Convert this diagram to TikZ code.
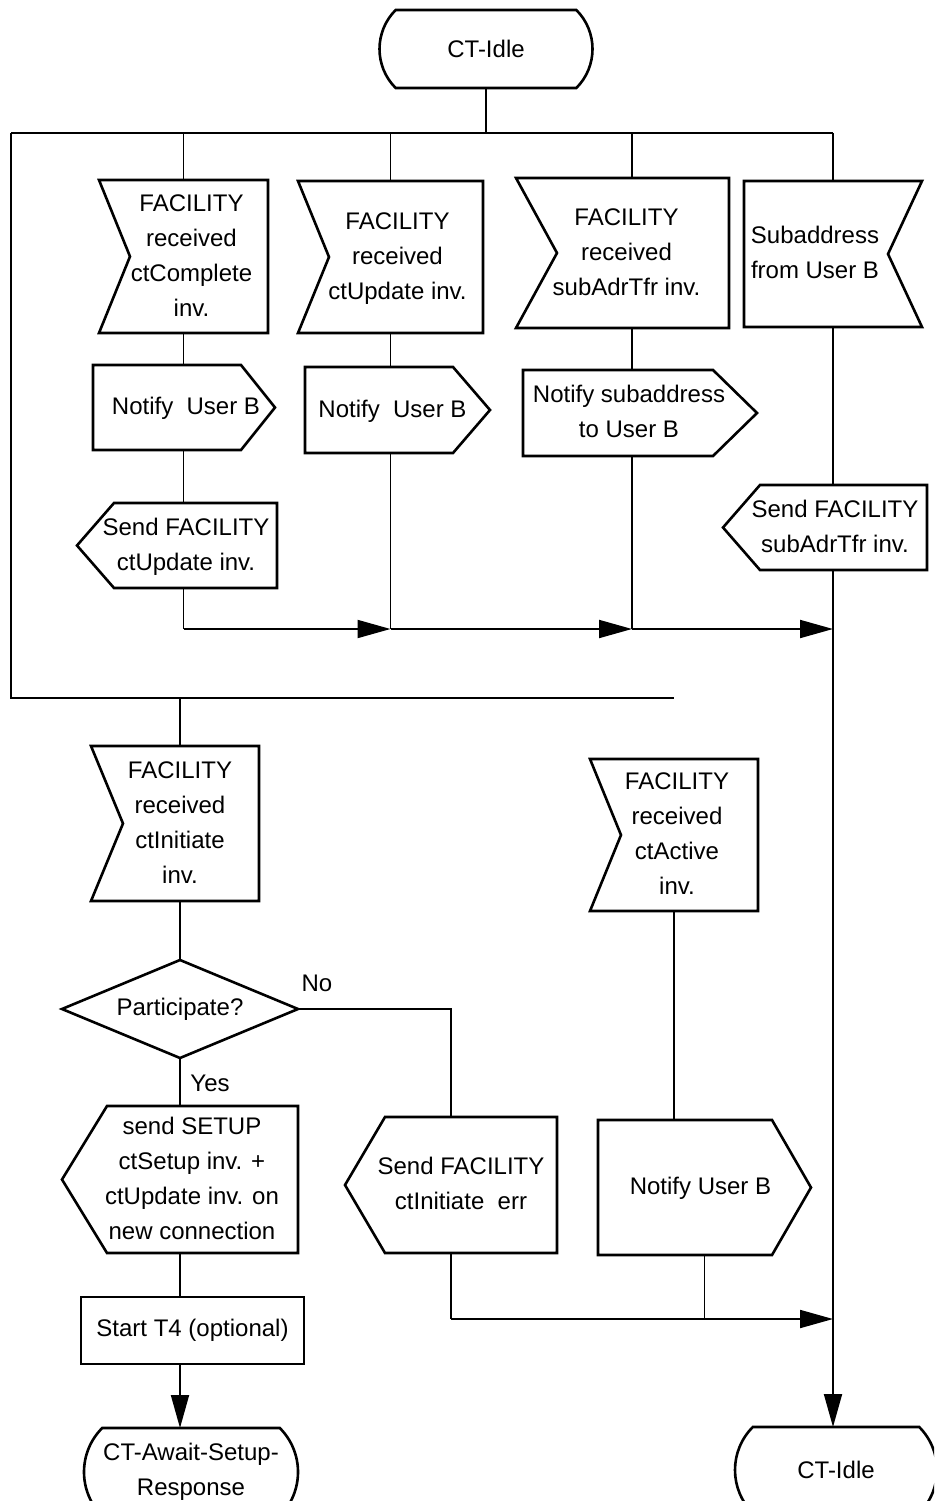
\documentclass[tikz,border=0pt]{standalone}
\usepackage{fontspec}
\setmainfont{Liberation Sans}
\usetikzlibrary{shapes.misc, shapes.geometric, arrows.meta}

% text block moved sideways inside its box
\newcommand{\boxtext}[2]{\hspace*{#1}\begin{tabular}{@{}c@{}}#2\end{tabular}\hspace*{-#1}}

\begin{document}
\begin{tikzpicture}[
  x=1pt, y=-1pt,
  every node/.style={font=\fontsize{24}{35}\selectfont, align=center, inner sep=0pt, outer sep=0pt},
  line/.style={line width=1.9pt},
  flow/.style={line width=1.9pt, -{Triangle[length=33pt, width=18pt]}},
  rim/.style={line width=2.6pt, line join=miter},
  state/.style={rounded rectangle, rounded rectangle arc length=90, draw, rim},
  % input: notch on the west side, depth #1
  inl/.style={rectangle, append after command={\pgfextra{\draw[rim]
      (\tikzlastnode.north west) -- (\tikzlastnode.north east) -- (\tikzlastnode.south east)
      -- (\tikzlastnode.south west) -- ([xshift=#1]\tikzlastnode.west) -- cycle;}}},
  % input: notch on the east side, depth #1
  inr/.style={rectangle, append after command={\pgfextra{\draw[rim]
      (\tikzlastnode.north west) -- (\tikzlastnode.north east) -- ([xshift=-#1]\tikzlastnode.east)
      -- (\tikzlastnode.south east) -- (\tikzlastnode.south west) -- cycle;}}},
  % output: point to the east, depth #1
  outr/.style={rectangle, append after command={\pgfextra{\draw[rim]
      (\tikzlastnode.north west) -- ([xshift=-#1]\tikzlastnode.north east) -- (\tikzlastnode.east)
      -- ([xshift=-#1]\tikzlastnode.south east) -- (\tikzlastnode.south west) -- cycle;}}},
  % output: point to the west, depth #1
  outl/.style={rectangle, append after command={\pgfextra{\draw[rim]
      ([xshift=#1]\tikzlastnode.north west) -- (\tikzlastnode.north east) -- (\tikzlastnode.south east)
      -- ([xshift=#1]\tikzlastnode.south west) -- (\tikzlastnode.west) -- cycle;}}},
  task/.style={rectangle, draw, rim},
  decision/.style={diamond, draw, rim, aspect=2.4}
  ]
\useasboundingbox (0,0) rectangle (934,1501);
\clip (0,0) rectangle (934,1501);

% States
\node[state, minimum width=213pt, minimum height=78pt] (idle) at (486,49) {CT-Idle};
\node[state, minimum width=214pt, minimum height=88pt] (await) at (191,1472) {CT-Await-Setup-\\Response};
\node[state, minimum width=202pt, minimum height=86pt] (idle2) at (836,1470) {CT-Idle};

% Upper branch
\node[inl=31, minimum width=169pt, minimum height=153pt] (inComp) at (183.5,256.5) {\boxtext{8pt}{FACILITY\\received\\ctComplete\\inv.}};
\node[inl=31, minimum width=185pt, minimum height=152pt] (inUpd) at (390.5,257) {\boxtext{7pt}{FACILITY\\received\\ctUpdate inv.}};
\node[inl=41, minimum width=213pt, minimum height=150pt] (inSub) at (622.5,253) {\boxtext{4pt}{FACILITY\\received\\subAdrTfr inv.}};
\node[inr=34, minimum width=178pt, minimum height=146pt] (inAddr) at (833,254) {\boxtext{-18pt}{Subaddress\\from User B}};

\node[outr=34, minimum width=182pt, minimum height=85pt] (nfyA) at (184,407.5) {\boxtext{2pt}{Notify\ \ User B}};
\node[outr=37, minimum width=185pt, minimum height=86pt] (nfyB) at (397.5,410) {\boxtext{-5pt}{Notify\ \ User B}};
\node[outr=44, minimum width=234pt, minimum height=86pt] (nfySub) at (640,413) {\boxtext{-11pt}{Notify subaddress\\to User B}};
\node[outl=37, minimum width=200pt, minimum height=85pt] (sndUpd) at (177,545.5) {\boxtext{9pt}{Send FACILITY\\ctUpdate inv.}};
\node[outl=37, minimum width=204pt, minimum height=85pt] (sndSub) at (825,527.5) {\boxtext{10pt}{Send FACILITY\\subAdrTfr inv.}};

% Lower branch
\node[inl=32, minimum width=168pt, minimum height=155pt] (inInit) at (175,823.5) {\boxtext{5pt}{FACILITY\\received\\ctInitiate\\inv.}};
\node[inl=31, minimum width=168pt, minimum height=152pt] (inAct) at (674,835) {\boxtext{3pt}{FACILITY\\received\\ctActive\\inv.}};
\node[decision, minimum width=236pt, minimum height=98pt] (part) at (180,1009) {Participate?};
\node (lblNo) at (317,983) {No};
\node (lblYes) at (210,1083) {Yes};
\node[outl=45, minimum width=236pt, minimum height=147pt] (sndSetup) at (180,1179.5) {\boxtext{12pt}{send SETUP\\ctSetup inv. +\\ctUpdate inv. on\\new connection}};
\node[outl=40, minimum width=212pt, minimum height=136pt] (sndErr) at (451,1185) {\boxtext{10pt}{Send FACILITY\\ctInitiate\ \ err}};
\node[outr=39, minimum width=213pt, minimum height=135pt] (nfyAct) at (704.5,1187.5) {\boxtext{-4pt}{Notify User B}};
\node[task, minimum width=223pt, minimum height=67pt] (startT) at (192.5,1330.5) {Start T4 (optional)};

% Buses
\coordinate (busA) at (11,133);
\coordinate (busB) at (11,698);
\coordinate (mrgA) at (0,629);
\coordinate (mrgB) at (0,1319);
\coordinate (colC) at (632,0);

\draw[line] (idle.south) -- (idle.south |- busA);
\draw[line] (busA) -- (busA -| inAddr.north);
\draw[line] (busA) -- (busB) -- (busB -| inAct.north);
\draw[line] (busA -| inComp.north) -- (inComp.north);
\draw[line] (busA -| inUpd.north) -- (inUpd.north);
\draw[line] (busA -| colC) -- (colC |- inSub.north);
\draw[line] (busA -| inAddr.north) -- (inAddr.north);

% Columns
\draw[line] (inComp.south) -- (inComp.south |- nfyA.north);
\draw[line] (inComp.south |- nfyA.south) -- (inComp.south |- sndUpd.north);
\draw[line] (inComp.south |- sndUpd.south) -- (inComp.south |- mrgA);
\draw[line] (inUpd.south) -- (inUpd.south |- nfyB.north);
\draw[line] (inUpd.south |- nfyB.south) -- (inUpd.south |- mrgA);
\draw[line] (colC |- inSub.south) -- (colC |- nfySub.north);
\draw[line] (colC |- nfySub.south) -- (colC |- mrgA);
\draw[line] (inAddr.south) -- (inAddr.south |- sndSub.north);
\draw[flow] (inAddr.south |- sndSub.south) -- (inAddr.south |- idle2.north);

\draw[flow] (inComp.south |- mrgA) -- (inUpd.south |- mrgA);
\draw[flow] (inUpd.south |- mrgA) -- (colC |- mrgA);
\draw[flow] (colC |- mrgA) -- (inAddr.south |- mrgA);

\draw[line] (busB -| part.north) -- (part.north |- inInit.north);
\draw[line] (part.north |- inInit.south) -- (part.north);
\draw[line] (part.east) -| (sndErr.north);
\draw[line] (part.south) -- (part.south |- sndSetup.north);
\draw[line] (part.south |- sndSetup.south) -- (part.south |- startT.north);
\draw[flow] (part.south |- startT.south) -- (part.south |- await.north);

\draw[line] (inAct.south) -- (inAct.south |- nfyAct.north);
\draw[line] (sndErr.south) -- (sndErr.south |- mrgB);
\draw[line] (nfyAct.south) -- (nfyAct.south |- mrgB);
\draw[flow] (sndErr.south |- mrgB) -- (inAddr.south |- mrgB);

\end{tikzpicture}
\end{document}
